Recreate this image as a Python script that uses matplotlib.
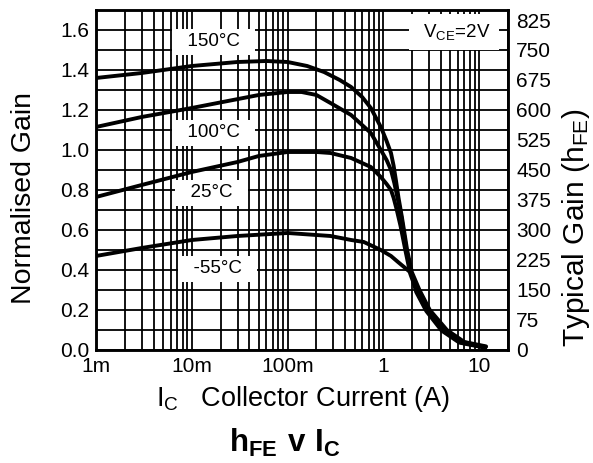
import matplotlib
matplotlib.use("Agg")
from matplotlib import pyplot as plt
from matplotlib.ticker import FixedLocator, LogLocator, NullFormatter

plt.rcParams['font.family'] = ['Liberation Sans', 'DejaVu Sans']
plt.rcParams['mathtext.fontset'] = 'custom'
plt.rcParams['mathtext.rm'] = 'Liberation Sans'
plt.rcParams['mathtext.bf'] = 'Liberation Sans:bold'
plt.rcParams['mathtext.default'] = 'regular'

# collector current (A) and normalised gain
i_150 = [0.001, 0.003, 0.01, 0.03, 0.06, 0.1, 0.16, 0.24, 0.35, 0.46, 0.6, 0.74,
         0.94, 1.07, 1.2, 1.28, 1.35, 1.44, 1.56, 1.77, 1.98, 2.38, 3.05, 4.6,
         7.0, 10, 11.8]
g_150 = [1.36, 1.385, 1.42, 1.44, 1.445, 1.44, 1.42, 1.39, 1.35, 1.315, 1.265, 1.21,
         1.115, 1.05, 0.985, 0.92, 0.85, 0.76, 0.665, 0.5, 0.39, 0.30, 0.20, 0.10,
         0.04, 0.025, 0.018]

i_100 = [0.001, 0.003, 0.01, 0.05, 0.1, 0.14, 0.2, 0.28, 0.46, 0.74, 0.94, 1.08,
         1.2, 1.3, 1.42, 1.54, 1.74, 1.93, 2.3, 2.95, 4.35, 6.7, 10, 11.7]
g_100 = [1.115, 1.165, 1.21, 1.275, 1.29, 1.29, 1.275, 1.235, 1.175, 1.085, 1.0, 0.95,
         0.9, 0.835, 0.75, 0.665, 0.5, 0.385, 0.30, 0.20, 0.10, 0.04, 0.022, 0.015]

i_25 = [0.001, 0.003, 0.01, 0.03, 0.05, 0.1, 0.2, 0.28, 0.46, 0.74, 0.94, 1.08,
        1.2, 1.28, 1.38, 1.51, 1.71, 1.91, 2.22, 2.85, 4.15, 6.4, 10, 11.6]
g_25 = [0.765, 0.825, 0.89, 0.94, 0.97, 0.99, 0.99, 0.985, 0.96, 0.915, 0.865, 0.83,
        0.80, 0.76, 0.70, 0.62, 0.49, 0.38, 0.295, 0.197, 0.098, 0.038, 0.019, 0.012]

i_m55 = [0.001, 0.003, 0.01, 0.03, 0.1, 0.28, 0.46, 0.625, 0.94, 1.2, 1.42, 1.79,
         1.94, 2.06, 2.2, 2.8, 4.05, 6.2, 10, 11.5]
g_m55 = [0.47, 0.51, 0.55, 0.57, 0.585, 0.57, 0.55, 0.54, 0.50, 0.47, 0.44, 0.40,
         0.385, 0.345, 0.29, 0.195, 0.097, 0.037, 0.017, 0.011]

x_ticks = [0.001, 0.01, 0.1, 1, 10]
x_labels = ['1m', '10m', '100m', '1', '10']
left_ticks = [0.0, 0.2, 0.4, 0.6, 0.8, 1.0, 1.2, 1.4, 1.6]
right_ticks = list(range(0, 826, 75))

fig = plt.figure(figsize=(5.93, 4.63), dpi=100)
ax = fig.add_axes([0.1619, 0.2441, 0.6948, 0.7343])

for xs, ys in [(i_150, g_150), (i_100, g_100), (i_25, g_25), (i_m55, g_m55)]:
    ax.plot(xs, ys, color='black', lw=2.8, solid_capstyle='round', zorder=3)

ax.set_xscale('log')
ax.set_xlim(0.001, 20)
ax.set_ylim(0, 1.7)
ax.set_xticks(x_ticks)
ax.set_xticklabels(x_labels)
ax.xaxis.set_minor_locator(LogLocator(base=10, subs=range(2, 10)))
ax.xaxis.set_minor_formatter(NullFormatter())
ax.set_yticks(left_ticks)
ax.set_yticklabels([f'{t:.1f}' for t in left_ticks])
ax.yaxis.set_minor_locator(FixedLocator([0.1, 0.3, 0.5, 0.7, 0.9, 1.1, 1.3, 1.5]))
ax.grid(True, which='both', color='black', lw=1.3)
ax.tick_params(which='both', length=0, labelsize=15, pad=5)
for s in ax.spines.values():
    s.set_linewidth(1.8)

ax2 = ax.twinx()
ax2.set_ylim(0, 850)
ax2.set_yticks(right_ticks)
ax2.tick_params(length=0, labelsize=15, pad=6)
for s in ax2.spines.values():
    s.set_linewidth(1.8)

box = dict(boxstyle='square,pad=0.25', fc='white', ec='none')
ax.text(0.0168, 1.54, '  150°C  ', ha='center', va='center', fontsize=13.5, bbox=box, zorder=4)
ax.text(0.0168, 1.085, '  100°C  ', ha='center', va='center', fontsize=13.5, bbox=box, zorder=4)
ax.text(0.016, 0.785, '  25°C  ', ha='center', va='center', fontsize=13.5, bbox=box, zorder=4)
ax.text(0.0185, 0.405, '  -55°C  ', ha='center', va='center', fontsize=13.5, bbox=box, zorder=4)
ax.text(5.47, 1.59, r' V$_\mathregular{CE}$=2V ', ha='center', va='center', fontsize=13.5,
        bbox=dict(boxstyle='square,pad=0.45', fc='white', ec='none'), zorder=4)

fig.text(24 / 593, 1 - 198 / 463, 'Normalised Gain', rotation=90, ha='center', va='center', fontsize=20.5)
fig.text(576 / 593, 1 - 228 / 463, r'Typical Gain (h$_\mathregular{FE}$)', rotation=90,
         ha='center', va='center', fontsize=21.5)
fig.text(303 / 593, 1 - 399 / 463, r'I$_\mathregular{C}$   Collector Current (A)',
         ha='center', va='center', fontsize=19.5)
fig.text(285 / 593, 1 - 443 / 463, r'$\mathbf{h_{FE}\ v\ I_{C}}$', ha='center', va='center', fontsize=22.5)

fig.savefig('out.png', dpi=100)
